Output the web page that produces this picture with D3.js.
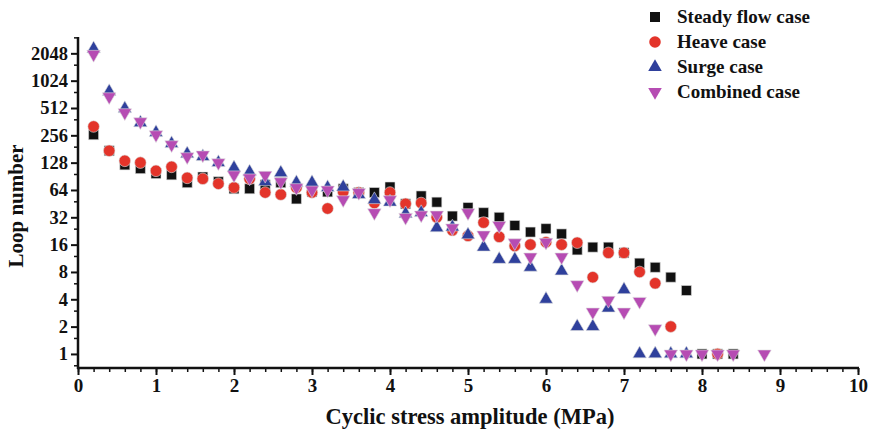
<!DOCTYPE html>
<meta charset="utf-8">
<script src="https://d3js.org/d3.v7.min.js"></script>
<style>
  body { margin: 0; background: #fff; }
  text { font-family: "Liberation Serif", "Times New Roman", serif; font-weight: bold; fill: #111; }
</style>
<div id="chart"></div>
<script>

// stress amplitude values (MPa)
var steadyX = [0.2,0.4,0.6,0.8,1.0,1.2,1.4,1.6,1.8,2.0,2.2,2.4,2.6,2.8,3.0,3.2,3.4,3.6,3.8,4.0,4.2,4.4,4.6,4.8,5.0,5.2,5.4,5.6,5.8,6.0,6.2,6.4,6.6,6.8,7.0,7.2,7.4,7.6,7.8,8.0,8.2,8.4];
var steadyY = [260,173,121,110,97,94,77,89,79,66,66,73,77,51,61,61,66,60,60,69,45,55,47,33,41,36,32,26,22,24,21,14,15,15,13,10,9,7,5,1,1,1];

var heaveX = [0.2,0.4,0.6,0.8,1.0,1.2,1.4,1.6,1.8,2.0,2.2,2.4,2.6,2.8,3.0,3.2,3.4,3.6,3.8,4.0,4.2,4.4,4.6,4.8,5.0,5.2,5.4,5.6,5.8,6.0,6.2,6.4,6.6,6.8,7.0,7.2,7.4,7.6,8.2];
var heaveY = [320,173,134,128,104,115,87,85,75,68,85,60,57,68,60,40,61,60,46,60,45,46,32,23,20,28,19.5,15.5,16,17,16,16.8,7,13,13,8,6,2,1];

var surgeX = [0.2,0.4,0.6,0.8,1.0,1.2,1.4,1.6,1.8,2.0,2.2,2.4,2.6,2.8,3.0,3.2,3.4,3.6,3.8,4.0,4.2,4.4,4.6,4.8,5.0,5.2,5.4,5.6,5.8,6.0,6.2,6.4,6.6,6.8,7.0,7.2,7.4,7.6,7.8];
var surgeY = [2300,776,503,352,274,207,160,149,128,112,101,79,99,77,77,68,69,57,50,47,35,36,24.5,25,20.5,15,11,11,9,4,8.2,2,2,3.2,5.1,1,1,1,1];

var combinedX = [0.2,0.4,0.6,0.8,1.0,1.2,1.4,1.6,1.8,2.0,2.2,2.4,2.6,2.8,3.0,3.2,3.4,3.6,3.8,4.0,4.2,4.4,4.6,4.8,5.0,5.2,5.4,5.6,5.8,6.0,6.2,6.4,6.6,6.8,7.0,7.2,7.4,7.6,7.8,8.0,8.2,8.4,8.8];
var combinedY = [2000,682,455,362,260,202,149,156,128,94,87,93,79,68,64,64,50,60,36,50,32,34,34,24.5,36,20.5,26,16.8,11.7,17,11.7,5.8,2.9,3.9,2.9,3.8,1.9,1,1,1,1,1,1];

var xTicks = [0,1,2,3,4,5,6,7,8,9,10];
var yTicks = [1,2,4,8,16,32,64,128,256,512,1024,2048];
var legendNames = ["Steady flow case","Heave case","Surge case","Combined case"];

var width = 873, height = 431;

var svg = d3.select("#chart").append("svg")
  .attr("width", width)
  .attr("height", height);

var x = d3.scaleLinear().domain([0, 10]).range([78, 858]);
var y = d3.scaleLog().base(2).domain([0.7, 3100]).range([368, 37]);

// x axis with minor ticks every 0.2
var xMinor = d3.range(0, 10.001, 0.2);
svg.append("g")
  .attr("transform", "translate(0,368)")
  .call(d3.axisBottom(x).tickValues(xMinor).tickSize(4).tickFormat(""))
  .call(function(g){ g.select(".domain").remove(); g.selectAll("line").attr("stroke", "#111").attr("stroke-width", 1.5); });
svg.append("g")
  .attr("transform", "translate(0,368)")
  .call(d3.axisBottom(x).tickValues(xTicks).tickSize(7).tickPadding(4).tickFormat(d3.format("d")))
  .call(function(g){
    g.select(".domain").remove();
    g.selectAll("line").attr("stroke", "#111").attr("stroke-width", 2);
    g.selectAll("text").style("font-size", "19px").attr("fill", "#111");
  });

// y axis (log2) with a minor tick at 1.5 x each major
var yMinor = [0.75].concat(yTicks.map(function(d){ return d * 1.5; }));
svg.append("g")
  .attr("transform", "translate(78,0)")
  .call(d3.axisLeft(y).tickValues(yMinor).tickSize(4).tickFormat(""))
  .call(function(g){ g.select(".domain").remove(); g.selectAll("line").attr("stroke", "#111").attr("stroke-width", 1.5); });
svg.append("g")
  .attr("transform", "translate(78,0)")
  .call(d3.axisLeft(y).tickValues(yTicks).tickSize(7).tickPadding(3).tickFormat(d3.format("d")))
  .call(function(g){
    g.select(".domain").remove();
    g.selectAll("line").attr("stroke", "#111").attr("stroke-width", 2);
    g.selectAll("text").style("font-size", "18.5px").attr("fill", "#111");
  });

// axis lines
svg.append("line").attr("x1", 77).attr("x2", 859).attr("y1", 368).attr("y2", 368)
  .attr("stroke", "#111").attr("stroke-width", 2.5);
svg.append("line").attr("x1", 78).attr("x2", 78).attr("y1", 37).attr("y2", 369)
  .attr("stroke", "#111").attr("stroke-width", 2.5);

// axis titles
svg.append("text")
  .attr("x", 470).attr("y", 424)
  .attr("text-anchor", "middle")
  .style("font-size", "22.5px")
  .text("Cyclic stress amplitude (MPa)");
svg.append("text")
  .attr("transform", "translate(23,206) rotate(-90)")
  .attr("text-anchor", "middle")
  .style("font-size", "21px")
  .text("Loop number");

// marker shapes
var sq = d3.symbol().type(d3.symbolSquare).size(100);
var ci = d3.symbol().type(d3.symbolCircle).size(105);
var tri = d3.symbol().type(d3.symbolTriangle).size(80);

var series = [
  {name: legendNames[0], xs: steadyX, ys: steadyY, path: sq(), rot: 0, color: "#111111"},
  {name: legendNames[1], xs: heaveX, ys: heaveY, path: ci(), rot: 0, color: "#e3342a"},
  {name: legendNames[2], xs: surgeX, ys: surgeY, path: tri(), rot: 0, color: "#2f409c"},
  {name: legendNames[3], xs: combinedX, ys: combinedY, path: tri(), rot: 180, color: "#b64cb3"}
];

series.forEach(function(s) {
  svg.append("g")
    .selectAll("path")
    .data(s.xs.map(function(d, i){ return [d, s.ys[i]]; }))
    .enter()
    .append("path")
      .attr("d", s.path)
      .attr("transform", function(d){ return "translate(" + x(d[0]) + "," + y(d[1]) + ") rotate(" + s.rot + ")"; })
      .attr("fill", s.color)
      .attr("stroke", "#ddd")
      .attr("stroke-width", 0.6);
});

// legend
var legend = svg.append("g");
series.forEach(function(s, i) {
  var ly = 17 + i * 25;
  legend.append("path")
    .attr("d", s.path)
    .attr("transform", "translate(655," + ly + ") rotate(" + s.rot + ")")
    .attr("fill", s.color);
  legend.append("text")
    .attr("x", 677).attr("y", ly + 6)
    .style("font-size", "19px")
    .text(s.name);
});

</script>
